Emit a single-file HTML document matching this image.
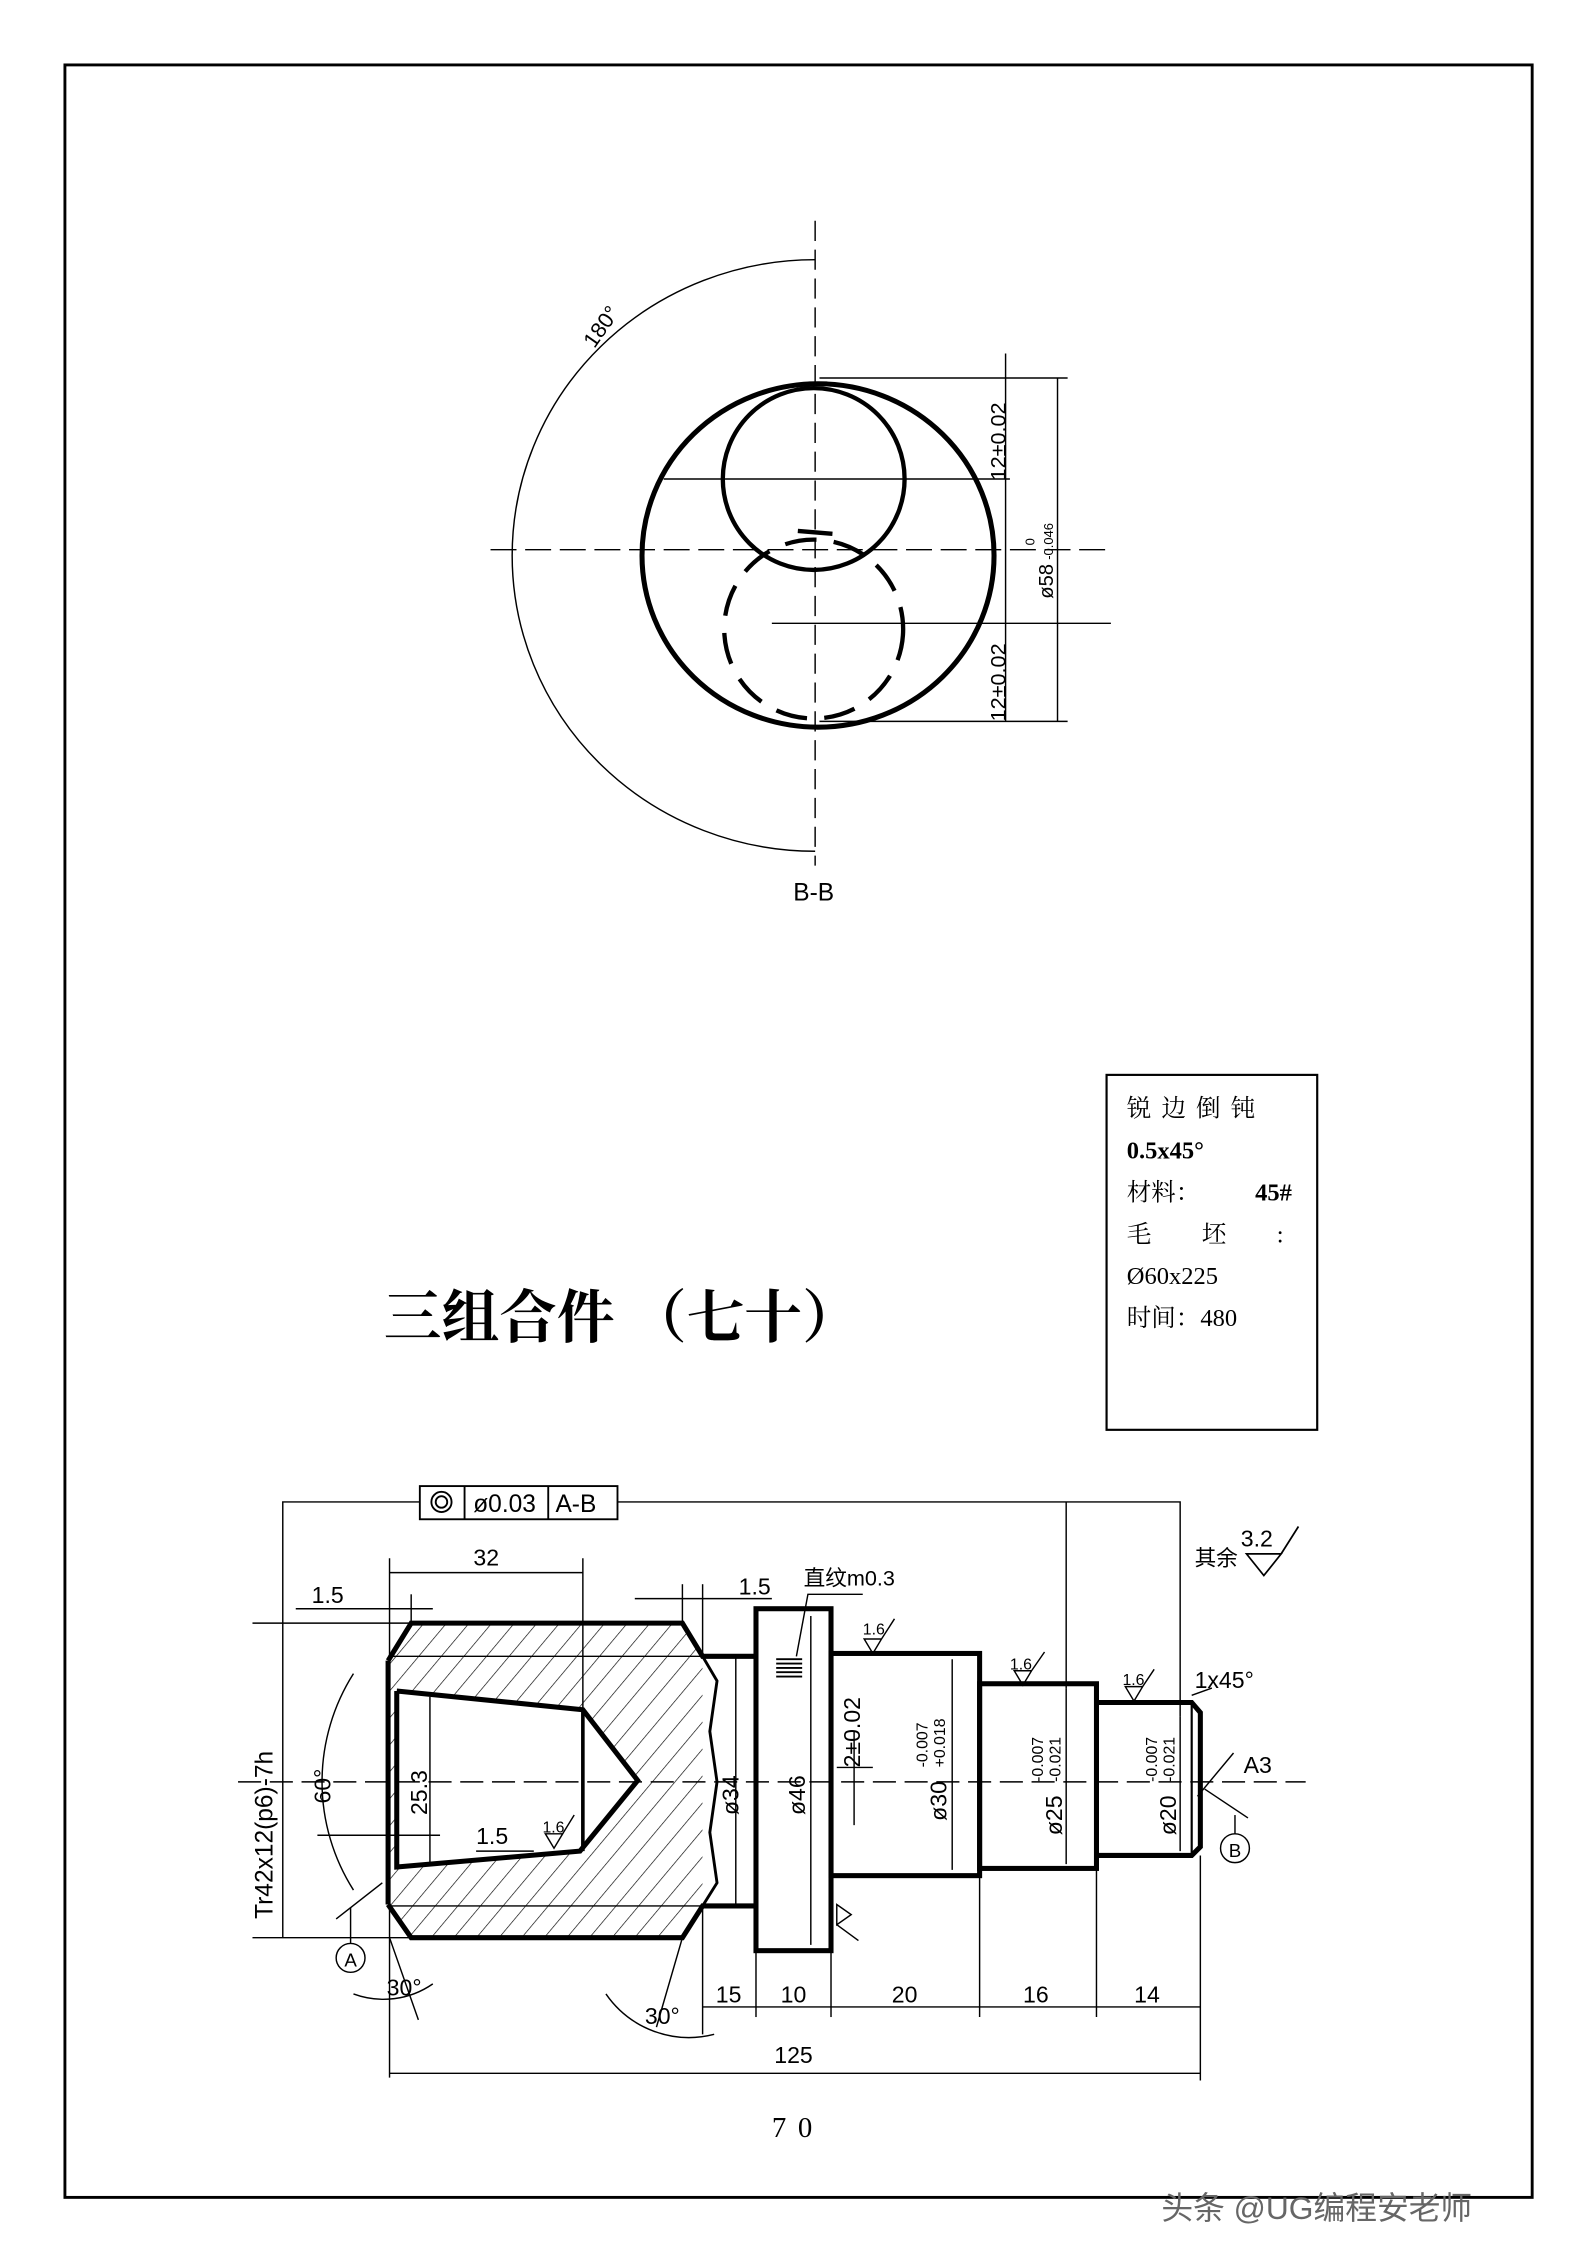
<!DOCTYPE html>
<html><head><meta charset="utf-8"><style>
html,body{margin:0;padding:0;background:#fff;}
svg{display:block;}
text{font-family:"Liberation Sans","Noto Sans CJK SC",sans-serif;fill:#000;}
.s{font-family:"Liberation Serif","Noto Serif CJK SC",serif;}
</style></head><body>
<svg width="1587" height="2245" viewBox="0 0 1100 1556" preserveAspectRatio="none" xmlns="http://www.w3.org/2000/svg">
<defs>
<pattern id="h" patternUnits="userSpaceOnUse" width="12" height="12" patternTransform="rotate(40)">
<line x1="0" y1="0" x2="0" y2="12" stroke="#000" stroke-width="0.9"/>
</pattern>
<clipPath id="tube">
<path d="M285,1125 L473,1125 L487,1148 L487,1321 L473,1343 L285,1343 L269,1320 L269,1151 Z M275,1172 L404,1185 L442,1234 L402,1283 L275,1294 Z" clip-rule="evenodd"/>
</clipPath>
</defs>
<rect x="0" y="0" width="1100" height="1556" fill="#fff"/>
<rect x="45" y="45" width="1017" height="1478" fill="none" stroke="#000" stroke-width="2"/>

<!-- TOP VIEW -->
<g stroke="#000" fill="none">
<line x1="565" y1="153" x2="565" y2="600" stroke-width="1" stroke-dasharray="14,6"/>
<line x1="340" y1="381" x2="770" y2="381" stroke-width="1" stroke-dasharray="18,6"/>
<line x1="460" y1="332" x2="700" y2="332" stroke-width="1"/>
<line x1="535" y1="432" x2="770" y2="432" stroke-width="1"/>
<ellipse cx="567" cy="385" rx="122" ry="119" stroke-width="3.5"/>
<circle cx="564" cy="332" r="63" stroke-width="3"/>
<circle cx="564" cy="436" r="62" stroke-width="3" stroke-dasharray="22,12"/>
<path d="M565,180 A210,205 0 0 0 565,590" stroke-width="1"/>
<line x1="568" y1="262" x2="740" y2="262" stroke-width="1"/>
<line x1="568" y1="500" x2="740" y2="500" stroke-width="1"/>
<line x1="697" y1="245" x2="697" y2="500" stroke-width="1"/>
<line x1="733" y1="262" x2="733" y2="500" stroke-width="1"/>
<line x1="553" y1="368" x2="577" y2="370" stroke-width="3"/>
</g>
<text x="0" y="0" transform="translate(412,242) rotate(-55)" font-size="15">180°</text>
<text x="0" y="0" transform="translate(697,333) rotate(-90)" font-size="15">12±0.02</text>
<text x="0" y="0" transform="translate(697,500) rotate(-90)" font-size="15">12±0.02</text>
<text x="0" y="0" transform="translate(730,415) rotate(-90)" font-size="14">ø58</text>
<text x="0" y="0" transform="translate(730,388) rotate(-90)" font-size="9">-0.046</text>
<text x="0" y="0" transform="translate(717,378) rotate(-90)" font-size="9">0</text>
<text x="564" y="624" font-size="17" text-anchor="middle" font-family="Liberation Mono">B-B</text>

<!-- TITLE -->
<text class="s" x="266" y="927" font-size="40" font-weight="bold">三组合件 （七十）</text>
<rect x="767" y="745" width="146" height="246" fill="none" stroke="#000" stroke-width="1.5"/>
<g class="s" font-size="17">
<text class="s" x="781" y="774" letter-spacing="7">锐边倒钝</text>
<text class="s" x="781" y="803" font-weight="bold">0.5x45°</text>
<text class="s" x="781" y="832">材料：</text><text class="s" x="870" y="832" font-weight="bold">45#</text>
<text class="s" x="781" y="861">毛</text><text class="s" x="833" y="861">坯</text><text class="s" x="885" y="861">:</text>
<text class="s" x="781" y="890">Ø60x225</text>
<text class="s" x="781" y="919">时间：480</text>
</g>

<!-- BOTTOM DRAWING -->
<g stroke="#000" fill="none">
<path d="M285,1125 L473,1125 L487,1148 L487,1321 L473,1343 L285,1343 L269,1320 L269,1151 Z M275,1172 L404,1185 L442,1234 L402,1283 L275,1294 Z" fill="url(#h)" stroke="none" clip-path="url(#tube)"/>
<polyline points="269,1151 285,1125 473,1125 487,1148 524,1148" stroke-width="3.5"/>
<polyline points="269,1320 285,1343 473,1343 487,1321 524,1321" stroke-width="3.5"/>
<line x1="269" y1="1151" x2="269" y2="1320" stroke-width="3.5"/>
<polyline points="275,1172 404,1185 442,1234 402,1283 275,1294 275,1172" stroke-width="3.5"/>
<line x1="404" y1="1185" x2="404" y2="1283" stroke-width="2.5"/>
<line x1="269" y1="1148" x2="487" y2="1148" stroke-width="1"/>
<line x1="269" y1="1321" x2="487" y2="1321" stroke-width="1"/>
<path d="M487,1148 L497,1165 L492,1200 L497,1235 L492,1270 L497,1305 L487,1321" stroke-width="2"/>
<rect x="524" y="1115" width="52" height="237" stroke-width="3.5"/>
<rect x="576" y="1146" width="103" height="154" stroke-width="3.5"/>
<rect x="679" y="1167" width="81" height="128" stroke-width="3.5"/>
<polyline points="760,1180 826,1180 832,1187 832,1280 826,1286 760,1286" stroke-width="3.5"/>
<line x1="826" y1="1180" x2="826" y2="1286" stroke-width="1.5"/>
<line x1="165" y1="1235" x2="905" y2="1235" stroke-width="1" stroke-dasharray="16,6"/>
<!-- knurl marks -->
<g stroke-width="1.3"><line x1="538" y1="1150" x2="556" y2="1150"/><line x1="538" y1="1153" x2="556" y2="1153"/><line x1="538" y1="1156" x2="556" y2="1156"/><line x1="538" y1="1159" x2="556" y2="1159"/><line x1="538" y1="1162" x2="556" y2="1162"/></g>
<polyline points="552,1148 560,1105 598,1105" stroke-width="1"/>
<!-- tolerance frame -->
<rect x="291" y="1030" width="137" height="23" stroke-width="1.3"/>
<line x1="322" y1="1030" x2="322" y2="1053" stroke-width="1.3"/>
<line x1="380" y1="1030" x2="380" y2="1053" stroke-width="1.3"/>
<circle cx="306" cy="1041" r="7" stroke-width="1.3"/><circle cx="306" cy="1041" r="4" stroke-width="1.3"/>
<polyline points="291,1041 196,1041 196,1343" stroke-width="1"/>
<polyline points="428,1041 818,1041 818,1190" stroke-width="1"/>
<line x1="739" y1="1041" x2="739" y2="1170" stroke-width="1"/>
<!-- Tr ext -->
<line x1="175" y1="1125" x2="285" y2="1125" stroke-width="1"/>
<line x1="175" y1="1343" x2="285" y2="1343" stroke-width="1"/>
<!-- 32 dim -->
<line x1="270" y1="1080" x2="270" y2="1440" stroke-width="1"/>
<line x1="404" y1="1080" x2="404" y2="1185" stroke-width="1"/>
<line x1="270" y1="1090" x2="404" y2="1090" stroke-width="1"/>
<!-- 1.5 left -->
<line x1="205" y1="1115" x2="300" y2="1115" stroke-width="1"/>
<line x1="285" y1="1105" x2="285" y2="1125" stroke-width="1"/>
<!-- 1.5 right -->
<line x1="440" y1="1108" x2="535" y2="1108" stroke-width="1"/>
<line x1="473" y1="1098" x2="473" y2="1125" stroke-width="1"/>
<line x1="487" y1="1098" x2="487" y2="1148" stroke-width="1"/>
<!-- inner dims -->
<line x1="298" y1="1176" x2="298" y2="1292" stroke-width="1"/>
<line x1="220" y1="1272" x2="305" y2="1272" stroke-width="1"/>
<line x1="330" y1="1283" x2="370" y2="1283" stroke-width="1"/>
<line x1="510" y1="1148" x2="510" y2="1321" stroke-width="1"/>
<line x1="562" y1="1120" x2="562" y2="1348" stroke-width="1"/>
<line x1="592" y1="1200" x2="592" y2="1265" stroke-width="1"/>
<line x1="580" y1="1225" x2="605" y2="1225" stroke-width="1"/>
<line x1="660" y1="1150" x2="660" y2="1296" stroke-width="1"/>
<line x1="739" y1="1170" x2="739" y2="1292" stroke-width="1"/>
<line x1="818" y1="1190" x2="818" y2="1283" stroke-width="1"/>
<!-- 60 arc -->
<path d="M245,1160 A140,140 0 0 0 245,1310" stroke-width="1"/>
<line x1="233" y1="1330" x2="265" y2="1305" stroke-width="1"/>
<line x1="243" y1="1322" x2="243" y2="1347" stroke-width="1"/>
<circle cx="243" cy="1357" r="10" stroke-width="1"/>
<!-- 30 arcs -->
<path d="M245,1382 A60,60 0 0 0 300,1375" stroke-width="1"/>
<line x1="270" y1="1343" x2="290" y2="1400" stroke-width="1"/>
<path d="M420,1382 A70,70 0 0 0 495,1410" stroke-width="1"/>
<line x1="473" y1="1343" x2="455" y2="1405" stroke-width="1"/>
<!-- segment dims -->
<line x1="487" y1="1321" x2="487" y2="1410" stroke-width="1"/>
<line x1="524" y1="1352" x2="524" y2="1398" stroke-width="1"/>
<line x1="576" y1="1352" x2="576" y2="1398" stroke-width="1"/>
<line x1="679" y1="1300" x2="679" y2="1398" stroke-width="1"/>
<line x1="760" y1="1295" x2="760" y2="1398" stroke-width="1"/>
<line x1="832" y1="1286" x2="832" y2="1442" stroke-width="1"/>
<line x1="487" y1="1391" x2="832" y2="1391" stroke-width="1"/>
<line x1="270" y1="1437" x2="832" y2="1437" stroke-width="1"/>
<!-- A3 / B -->
<line x1="830" y1="1245" x2="855" y2="1215" stroke-width="1"/>
<line x1="835" y1="1240" x2="865" y2="1260" stroke-width="1"/>
<line x1="856" y1="1258" x2="856" y2="1271" stroke-width="1"/>
<circle cx="856" cy="1281" r="10" stroke-width="1"/>
<line x1="826" y1="1175" x2="840" y2="1170" stroke-width="1"/>
<!-- roughness symbols -->
<path d="M599,1136 L611,1136 L605,1146 Z M611,1136 L620,1122" stroke-width="1"/>
<path d="M703,1158 L715,1158 L709,1168 Z M715,1158 L724,1145" stroke-width="1"/>
<path d="M780,1169 L792,1169 L786,1179 Z M792,1169 L800,1157" stroke-width="1"/>
<path d="M378,1271 L390,1271 L384,1281 Z M390,1271 L398,1258" stroke-width="1"/>
<path d="M580,1320 L580,1334 L590,1327 Z M580,1334 L595,1345" stroke-width="1"/>
<path d="M864,1077 L888,1077 L876,1092 Z M888,1077 L900,1058" stroke-width="1.2"/>
</g>
<g font-family="Liberation Sans" font-size="16">
<text x="306" y="1047" font-size="16" text-anchor="start" x-offset="0"></text>
<text x="328" y="1048" font-size="17">ø0.03</text>
<text x="385" y="1048" font-size="17">A-B</text>
<text x="337" y="1085" text-anchor="middle">32</text>
<text x="216" y="1111">1.5</text>
<text x="512" y="1105">1.5</text>
<text x="557" y="1099" font-size="15">直纹m0.3</text>
<text x="828" y="1085" font-size="15">其余</text>
<text x="860" y="1072" font-size="16">3.2</text>
<text x="828" y="1170" font-size="16">1x45°</text>
<text x="862" y="1229" font-size="16">A3</text>
<text x="243" y="1363" font-size="13" text-anchor="middle">A</text>
<text x="856" y="1287" font-size="13" text-anchor="middle">B</text>
<text x="330" y="1278">1.5</text>
<text x="376" y="1270" font-size="11">1.6</text>
<text x="598" y="1133" font-size="11">1.6</text>
<text x="700" y="1157" font-size="11">1.6</text>
<text x="778" y="1168" font-size="11">1.6</text>
<text x="505" y="1388" text-anchor="middle">15</text>
<text x="550" y="1388" text-anchor="middle">10</text>
<text x="627" y="1388" text-anchor="middle">20</text>
<text x="718" y="1388" text-anchor="middle">16</text>
<text x="795" y="1388" text-anchor="middle">14</text>
<text x="550" y="1430" text-anchor="middle">125</text>
<text x="268" y="1383">30°</text>
<text x="447" y="1403">30°</text>
<text transform="translate(189,1330) rotate(-90)" font-size="17">Tr42x12(p6)-7h</text>
<text transform="translate(229,1250) rotate(-90)">60°</text>
<text transform="translate(296,1258) rotate(-90)">25.3</text>
<text transform="translate(512,1258) rotate(-90)">ø34</text>
<text transform="translate(558,1258) rotate(-90)">ø46</text>
<text transform="translate(596,1225) rotate(-90)">2±0.02</text>
<text transform="translate(656,1262) rotate(-90)">ø30</text>
<text transform="translate(643,1225) rotate(-90)" font-size="11">-0.007</text>
<text transform="translate(655,1225) rotate(-90)" font-size="11">+0.018</text>
<text transform="translate(736,1272) rotate(-90)">ø25</text>
<text transform="translate(723,1235) rotate(-90)" font-size="11">-0.007</text>
<text transform="translate(735,1235) rotate(-90)" font-size="11">-0.021</text>
<text transform="translate(815,1272) rotate(-90)">ø20</text>
<text transform="translate(802,1235) rotate(-90)" font-size="11">-0.007</text>
<text transform="translate(814,1235) rotate(-90)" font-size="11">-0.021</text>
</g>
<text class="s" x="553" y="1481" font-size="20" text-anchor="middle" letter-spacing="8">70</text>
<text x="805" y="1538" font-size="22" style="fill:#666">头条 @UG编程安老师</text>
</svg>
</body></html>
